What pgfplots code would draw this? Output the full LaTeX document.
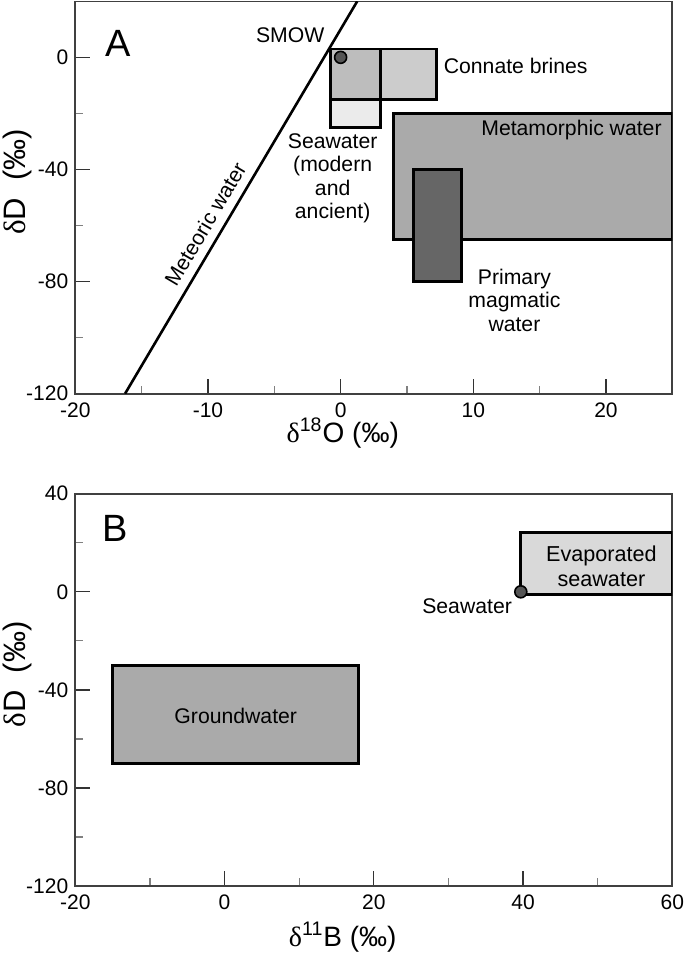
\documentclass[border=0pt]{standalone}
\usepackage{fontspec}
\setmainfont{Liberation Sans}
\newfontfamily\serif{Liberation Serif}
\usepackage{pgfplots}
\pgfplotsset{compat=1.18}
\definecolor{cover}{HTML}{BDBDBD}
\definecolor{cconn}{HTML}{CCCCCC}
\definecolor{csea}{HTML}{EBEBEB}
\definecolor{cmeta}{HTML}{AAAAAA}
\definecolor{cmag}{HTML}{666666}
\definecolor{cdot}{HTML}{555555}
\definecolor{cevap}{HTML}{D9D9D9}
\newcommand{\dl}{{\serif δ}}
\tikzset{ann/.style={font=\fontsize{10.6}{11.7}\selectfont}}
\begin{document}
\begin{tikzpicture}
\pgfplotsset{
  every axis/.append style={
    scale only axis, width=298.5pt, height=196.2pt,
    axis line style={draw=black!75, line width=0.8pt},
    tick align=inside, xtick pos=left, ytick pos=left,
    major tick length=7.5pt, minor tick length=4pt,
    major tick style={draw=black!80, line width=0.6pt},
    minor tick style={draw=black!50, line width=0.6pt},
    /pgf/number format/assume math mode=true,
    tick label style={font=\fontsize{10.5}{12}\selectfont},
    xticklabel style={yshift=-1pt},
    label style={font=\fontsize{14}{16}\selectfont},
    ylabel style={at={(axis description cs:-0.097,0.54)}, anchor=center, font=\fontsize{15.5}{17}\selectfont},
    clip mode=individual,
  }
}
% ---------- Panel A ----------
\begin{axis}[
  at={(0,0)}, anchor=south west,
  xmin=-20, xmax=25, ymin=-120, ymax=20,
  xtick={-20,-10,0,10,20}, minor xtick={-15,-5,5,15},
  ytick={-120,-80,-40,0}, minor ytick={-100,-60,-20},
  xlabel={\dl\textsuperscript{18}O (‰)},
  ylabel={\dl D\hspace{0.55em}(‰)},
  xlabel style={at={(axis description cs:0.448,-0.1)}, anchor=center},
]
\addplot[draw=black, line width=1.4pt, fill=csea] coordinates {(-0.75,-25) (3,-25) (3,3) (-0.75,3)} -- cycle;
\addplot[draw=black, line width=1.4pt, fill=cconn] coordinates {(-0.75,-15) (7.2,-15) (7.2,3) (-0.75,3)} -- cycle;
\addplot[draw=black, line width=1.4pt, fill=cover] coordinates {(-0.75,-15) (3,-15) (3,3) (-0.75,3)} -- cycle;
\addplot[draw=black, line width=1.4pt, fill=cmeta] coordinates {(4,-65) (25,-65) (25,-20) (4,-20)} -- cycle;
\addplot[draw=black, line width=1.4pt, fill=cmag] coordinates {(5.5,-80) (9.1,-80) (9.1,-40) (5.5,-40)} -- cycle;
\addplot[black, line width=1.3pt] coordinates {(-16.25,-120) (1.25,20)};
\addplot[only marks, mark=*, mark size=3pt, mark options={fill=cdot, draw=black, line width=0.8pt}] coordinates {(0,0)};
\node[font=\fontsize{19}{21}\selectfont] at (axis cs:-16.8,5) {A};
\node[ann] at (axis cs:-3.8,7.8) {SMOW};
\node[ann] at (axis cs:13.2,-3) {Connate brines};
\node[ann] at (axis cs:17.4,-25.8) {Metamorphic water};
\node[ann, align=center] at (axis cs:-0.6,-43.2) {Seawater\\(modern\\and\\ancient)};
\node[ann, align=center] at (axis cs:13.1,-86.7) {Primary\\magmatic\\water};
\node[ann, rotate=59.4] at (axis cs:-10.2,-59.5) {Meteoric water};
\end{axis}
% ---------- Panel B ----------
\begin{axis}[
  at={(0,-246.2pt)}, anchor=south west,
  xmin=-20, xmax=60, ymin=-120, ymax=40,
  xtick={-20,0,20,40,60}, minor xtick={-10,10,30,50},
  ytick={-120,-80,-40,0,40}, minor ytick={-100,-60,-20,20},
  xlabel={\dl\textsuperscript{11}B (‰)},
  ylabel={\dl D\hspace{0.55em}(‰)},
  xlabel style={at={(axis description cs:0.448,-0.13)}, anchor=center},
]
\addplot[draw=black, line width=1.4pt, fill=cmeta] coordinates {(-15,-70) (18,-70) (18,-30) (-15,-30)} -- cycle;
\addplot[draw=black, line width=1.4pt, fill=cevap] coordinates {(39.7,-1) (60,-1) (60,24.3) (39.7,24.3)} -- cycle;
\addplot[only marks, mark=*, mark size=3pt, mark options={fill=cdot, draw=black, line width=0.8pt}] coordinates {(39.7,0)};
\node[font=\fontsize{19}{21}\selectfont] at (axis cs:-14.7,25.9) {B};
\node[ann] at (axis cs:1.5,-50.5) {Groundwater};
\node[align=center, font=\fontsize{10.8}{12.5}\selectfont] at (axis cs:50.5,10.5) {Evaporated\\seawater};
\node[ann] at (axis cs:32.5,-6) {Seawater};
\end{axis}
\pgfresetboundingbox
\path[use as bounding box] (-37.65pt,-283.15pt) rectangle (304.85pt,196.85pt);
\end{tikzpicture}
\end{document}
